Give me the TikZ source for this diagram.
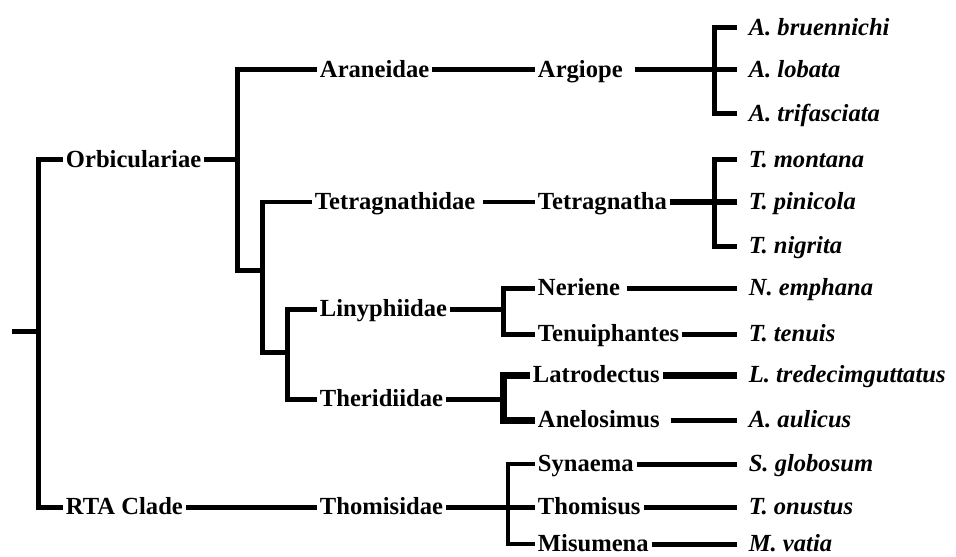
\documentclass[tikz,border=0pt]{standalone}
\usepackage{fontspec}
\setmainfont{Liberation Serif}
\usetikzlibrary{positioning}
\begin{document}
\begin{tikzpicture}[x=0.02cm,y=-0.02cm,line join=miter,
		taxon/.style={anchor=west,inner xsep=1.5pt,inner ysep=0pt,text height=0.8em,text depth=0pt,font=\fontsize{14}{16}\selectfont\bfseries},
		species/.style={taxon,inner xsep=6.5pt,font=\fontsize{14}{16}\selectfont\bfseries\itshape},
		branch/.style={line width=0.1cm},
		thickbranch/.style={line width=0.14cm},
		thinbranch/.style={line width=0.07cm}]
		\useasboundingbox (0,0) rectangle (956,557);
		% junctions
		\coordinate (root) at (12,331);
		\coordinate (n0) at (38,331);
		\coordinate (n1) at (237,160);
		\coordinate (n2) at (262,270);
		\coordinate (n3) at (287,352);
		\coordinate (jA) at (714,70);
		\coordinate (jT) at (714,202);
		\coordinate (jL) at (503,309);
		\coordinate (jR) at (503,399);
		\coordinate (jM) at (508,507);
		% families and clades
		\node[taxon] (orb) at (63,160) {Orbiculariae};
		\node[taxon] (rta) at (63,507) {RTA Clade};
		\node[taxon] (ara) at (317,70) {Araneidae};
		\node[taxon] (tetd) at (312,202) {Tetragnathidae};
		\node[taxon] (liny) at (317,309) {Linyphiidae};
		\node[taxon] (ther) at (317,399) {Theridiidae};
		\node[taxon] (thom) at (317,507) {Thomisidae};
		% genera
		\node[taxon] (argi) at (535,70) {Argiope};
		\node[taxon] (tetr) at (535,202) {Tetragnatha};
		\node[taxon] (neri) at (535,288) {Neriene};
		\node[taxon] (tenu) at (535,334) {Tenuiphantes};
		\node[taxon] (latr) at (530,375) {Latrodectus};
		\node[taxon] (anel) at (535,420) {Anelosimus};
		\node[taxon] (syna) at (535,464) {Synaema};
		\node[taxon] (thms) at (535,507) {Thomisus};
		\node[taxon] (misu) at (535,544) {Misumena};
		% species
		\node[species] (abru) at (737,28) {A. bruennichi};
		\node[species] (alob) at (737,70) {A. lobata};
		\node[species] (atri) at (737,114) {A. trifasciata};
		\node[species] (tmon) at (737,160) {T. montana};
		\node[species] (tpin) at (737,202) {T. pinicola};
		\node[species] (tnig) at (737,246) {T. nigrita};
		\node[species] (nemp) at (737,288) {N. emphana};
		\node[species] (tten) at (737,334) {T. tenuis};
		\node[species] (ltre) at (737,375) {L. tredecimguttatus};
		\node[species] (aaul) at (737,420) {A. aulicus};
		\node[species] (sglo) at (737,464) {S. globosum};
		\node[species] (tonu) at (737,507) {T. onustus};
		\node[species] (mvat) at (737,544) {M. vatia};
		% left part of the tree
		\draw[branch] (root) -- (n0);
		\draw[branch] (orb.west) -| (n0) |- (rta.west);
		\draw[branch] (orb.east) -- (n1);
		\draw[branch] (ara.west) -| (n1) |- (n2);
		\draw[branch] (tetd.west) -| (n2) |- (n3);
		\draw[branch] (liny.west) -| (n3) |- (ther.west);
		\draw[branch] (rta.east) -- (thom.west);
		% middle part
		\draw[branch] (ara.east) -- (argi.west);
		\draw[branch,shorten <=0.1cm] (tetd.east) -- (tetr.west);
		\draw[branch] (liny.east) -- (jL);
		\draw[branch] (neri.west) -| (jL) |- (tenu.west);
		\draw[branch] (ther.east) -- (jR);
		\draw[thickbranch] (latr.west) -| (jR) |- (anel.west);
		\draw[branch] (thom.east) -- (thms.west);
		\draw[thinbranch] (syna.west) -| (jM) |- (misu.west);
		% right part
		\draw[branch,shorten <=0.18cm] (argi.east) -- (alob.west);
		\draw[branch] (abru.west) -| (jA) |- (atri.west);
		\draw[thickbranch] (tetr.east) -- (tpin.west);
		\draw[branch] (tmon.west) -| (jT) |- (tnig.west);
		\draw[branch,shorten <=0.08cm] (neri.east) -- (nemp.west);
		\draw[branch] (tenu.east) -- (tten.west);
		\draw[thickbranch] (latr.east) -- (ltre.west);
		\draw[branch,shorten <=0.16cm] (anel.east) -- (aaul.west);
		\draw[branch] (syna.east) -- (sglo.west);
		\draw[branch] (thms.east) -- (tonu.west);
		\draw[branch] (misu.east) -- (mvat.west);
\end{tikzpicture}
\end{document}
